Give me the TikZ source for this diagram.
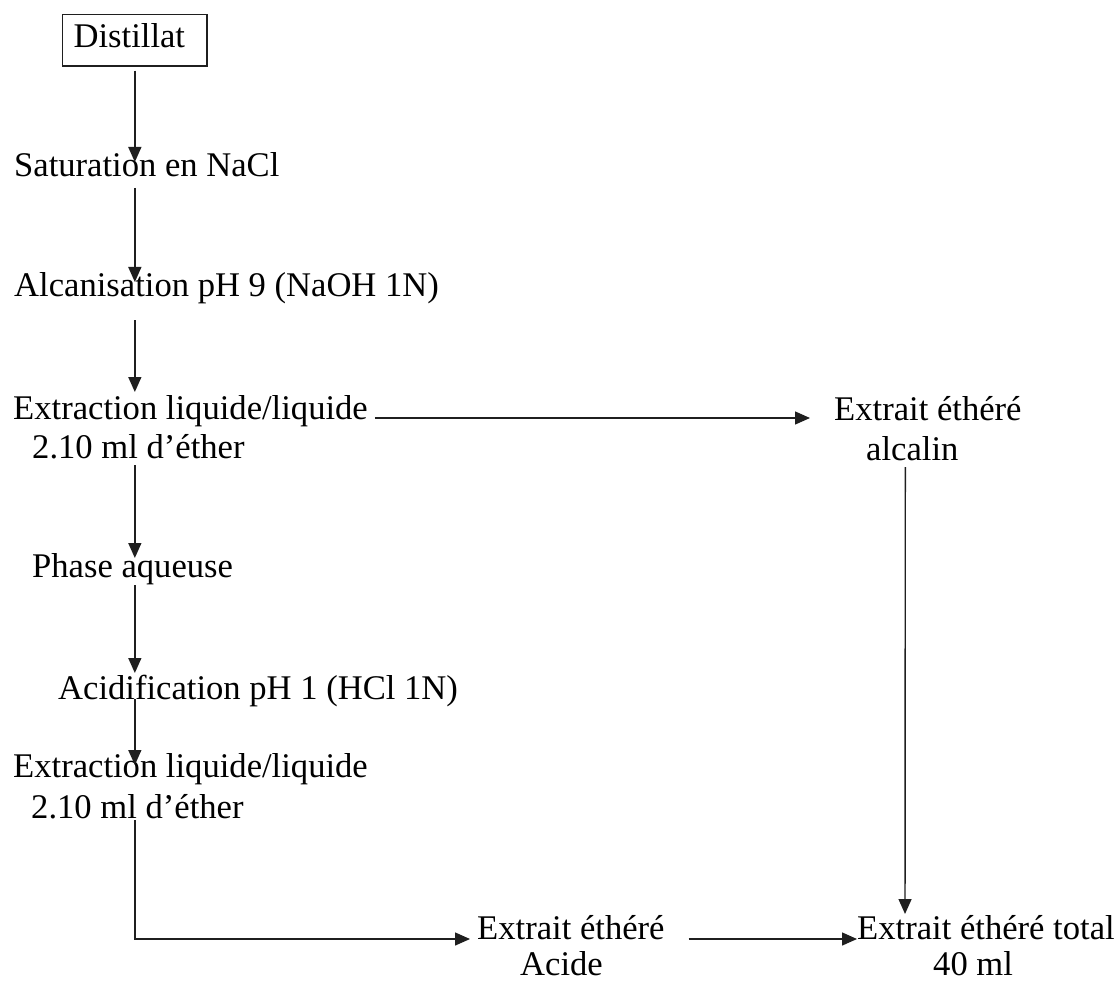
\documentclass[tikz,border=0pt]{standalone}
\usepackage{fontspec}
\setmainfont{Liberation Serif}
\usetikzlibrary{arrows.meta,calc}
\begin{document}
\begin{tikzpicture}[x=1pt,y=-1pt,
  txt/.style={font=\fontsize{34.6}{39}\selectfont, inner sep=0pt, anchor=base west, text=black},
  arr/.style={line width=1.4pt, draw=black!88, -{Triangle[length=15pt,width=13pt]}}]
\useasboundingbox (0,0) rectangle (1115,981);

\node[txt, draw=black!88, line width=1.2pt, inner xsep=11pt, inner ysep=9.5pt] (dist) at (62,48) {Distillat\hspace{11pt}\rule[-8.5pt]{0pt}{8.5pt}};
\node[txt] (sat) at (14,177) {Saturation en NaCl};
\node[txt] (alc) at (14,297) {Alcanisation pH 9 (NaOH 1N)};
\node[txt] (ext1) at (13,419) {Extraction liquide/liquide};
\node[txt] (ext1b) at (32,458) {2.10 ml d’éther};
\node[txt] (alk) at (834,420) {Extrait éthéré};
\node[txt] (alkb) at (866,460) {alcalin};
\node[txt] (phase) at (32,577) {Phase aqueuse};
\node[txt] (acid) at (58,699) {Acidification pH 1 (HCl 1N)};
\node[txt] (ext2) at (13,777) {Extraction liquide/liquide};
\node[txt] (ext2b) at (31,818) {2.10 ml d’éther};
\node[txt] (acide) at (477,939) {Extrait éthéré};
\node[txt] (acideb) at (520,975) {Acide};
\node[txt] (tot) at (857,939) {Extrait éthéré total};
\node[txt] (totb) at (933,975) {40 ml};

\draw[arr, shorten <=4pt, shorten >=15pt] (dist.south) -- (sat.base -| dist.south);
\draw[arr, shorten <=11pt, shorten >=15pt] (sat.base -| dist.south) -- (alc.base -| dist.south);
\draw[arr, shorten <=23pt, shorten >=27pt] (alc.base -| dist.south) -- (ext1.base -| dist.south);
\draw[arr, shorten <=7pt, shorten >=19pt] (ext1b.base -| dist.south) -- (phase.base -| dist.south);
\draw[arr, shorten <=8pt, shorten >=26pt] (phase.base -| dist.south) -- (acid.base -| dist.south);
\draw[arr, shorten >=12pt] (acid.base -| dist.south) -- (ext2.base -| dist.south);
\draw[arr, shorten <=2pt, shorten >=7pt] (ext2b.base -| dist.south) |- (acide.base west);
\draw[arr, shorten <=7pt, shorten >=24pt] ($(ext1.base east)+(0,-1)$) -- ($(alk.base west)+(0,-2)$);
\draw[arr, shorten <=7pt, shorten >=25pt] ($(alkb.base)+(-7,0)$) -- ($(tot.base west)+(48,0)$);
\draw[arr, shorten <=24pt] (acide.base east) -- (tot.base west);
\end{tikzpicture}
\end{document}
